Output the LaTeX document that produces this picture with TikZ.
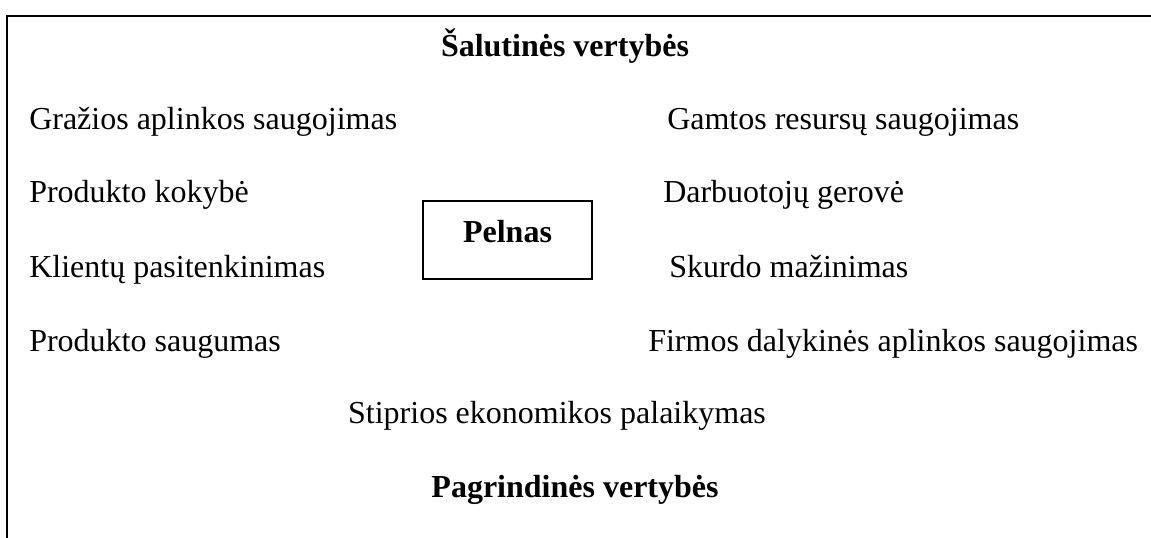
\documentclass[tikz,border=0pt]{standalone}
\usepackage{fontspec}
\setmainfont{Liberation Serif}
\begin{document}
\begin{tikzpicture}[x=0.75pt,y=-0.75pt,
  every node/.style={inner sep=0pt, font=\fontsize{24}{28}\selectfont},
  item/.style={anchor=base west},
  heading/.style={anchor=base, font=\fontsize{24}{28}\selectfont\bfseries},
  frame/.style={line width=1.5pt},
  profitbox/.style={draw, line width=1.1pt, minimum width=126.75pt,
    text height=30.75pt, text depth=27.75pt, anchor=base,
    font=\fontsize{24}{28}\selectfont\bfseries}]
\useasboundingbox (0,0) rectangle (1151,538);
% open frame: top edge and left edge
\coordinate (tl) at (7,16);
\coordinate (tr) at (1152,16);
\coordinate (bl) at (7,539);
\draw[frame] (tr) -- (tl) -- (bl);

\node[heading] (sec) at (565,57) {Šalutinės vertybės};

\node[item] (l1) at (29,130) {Gražios aplinkos saugojimas};
\node[item] (r1) at (667,130) {Gamtos resursų saugojimas};

\node[item] (l2) at (29,203) {Produkto kokybė};
\node[item] (r2) at (663,203) {Darbuotojų gerovė};

\node[item] (l3) at (29,277) {Klientų pasitenkinimas};
\node[item] (r3) at (669,277) {Skurdo mažinimas};

\node[item] (l4) at (29,351) {Produkto saugumas};
\node[item] (r4) at (648,351) {Firmos dalykinės aplinkos saugojimas};

\node[profitbox] (profit) at (507.5,242) {Pelnas};

\node[anchor=base] (econ) at (557,423) {Stiprios ekonomikos palaikymas};
\node[heading] (main) at (575,497) {Pagrindinės vertybės};
\end{tikzpicture}
\end{document}
